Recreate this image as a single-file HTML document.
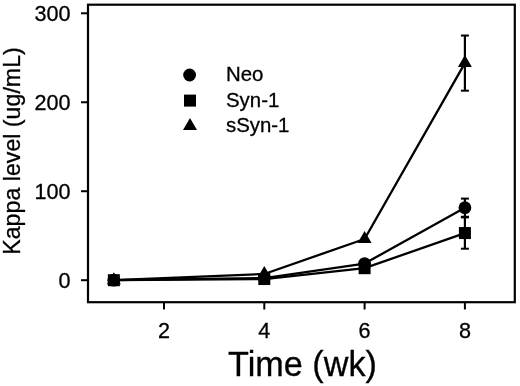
<!DOCTYPE html>
<html><head><meta charset="utf-8"><style>
html,body{margin:0;padding:0;background:#fff;}
body{width:520px;height:386px;overflow:hidden;}
svg{display:block;}
text{font-family:"Liberation Sans",Arial,sans-serif;fill:#000;stroke:#000;stroke-width:0.3px;}
.tk{font-size:21.6px;}
.lg{font-size:20.4px;}
.xt{font-size:34.2px;}
.yt{font-size:23.2px;}
</style></head><body>
<svg width="520" height="386" viewBox="0 0 520 386">
<rect x="88" y="4.7" width="426.79999999999995" height="297.5" fill="none" stroke="#000" stroke-width="2.2"/>
<line x1="81" y1="280.20" x2="88" y2="280.20" stroke="#000" stroke-width="2"/>
<text x="70.5" y="287.70" text-anchor="end" class="tk">0</text>
<line x1="81" y1="191.23" x2="88" y2="191.23" stroke="#000" stroke-width="2"/>
<text x="70.5" y="198.73" text-anchor="end" class="tk">100</text>
<line x1="81" y1="102.26" x2="88" y2="102.26" stroke="#000" stroke-width="2"/>
<text x="70.5" y="109.76" text-anchor="end" class="tk">200</text>
<line x1="81" y1="13.29" x2="88" y2="13.29" stroke="#000" stroke-width="2"/>
<text x="70.5" y="20.79" text-anchor="end" class="tk">300</text>
<line x1="164.00" y1="302.2" x2="164.00" y2="309.5" stroke="#000" stroke-width="2"/>
<text x="164.00" y="337.8" text-anchor="middle" class="tk">2</text>
<line x1="264.30" y1="302.2" x2="264.30" y2="309.5" stroke="#000" stroke-width="2"/>
<text x="264.30" y="337.8" text-anchor="middle" class="tk">4</text>
<line x1="364.60" y1="302.2" x2="364.60" y2="309.5" stroke="#000" stroke-width="2"/>
<text x="364.60" y="337.8" text-anchor="middle" class="tk">6</text>
<line x1="464.90" y1="302.2" x2="464.90" y2="309.5" stroke="#000" stroke-width="2"/>
<text x="464.90" y="337.8" text-anchor="middle" class="tk">8</text>
<polyline points="113.85,280.20 264.30,273.97 364.60,239.01 464.90,63.11" fill="none" stroke="#000" stroke-width="2.3" stroke-linejoin="round"/>
<polyline points="113.85,280.20 264.30,278.06 364.60,263.56 464.90,207.69" fill="none" stroke="#000" stroke-width="2.3" stroke-linejoin="round"/>
<polyline points="113.85,280.20 264.30,279.04 364.60,268.19 464.90,233.05" fill="none" stroke="#000" stroke-width="2.3" stroke-linejoin="round"/>
<line x1="464.90" y1="35.53" x2="464.90" y2="90.69" stroke="#000" stroke-width="2.2"/>
<line x1="460.90" y1="35.53" x2="468.90" y2="35.53" stroke="#000" stroke-width="2"/>
<line x1="460.90" y1="90.69" x2="468.90" y2="90.69" stroke="#000" stroke-width="2"/>
<line x1="464.90" y1="198.61" x2="464.90" y2="216.76" stroke="#000" stroke-width="2.2"/>
<line x1="460.90" y1="198.61" x2="468.90" y2="198.61" stroke="#000" stroke-width="2"/>
<line x1="460.90" y1="216.76" x2="468.90" y2="216.76" stroke="#000" stroke-width="2"/>
<line x1="464.90" y1="217.39" x2="464.90" y2="248.70" stroke="#000" stroke-width="2.2"/>
<line x1="460.90" y1="217.39" x2="468.90" y2="217.39" stroke="#000" stroke-width="2"/>
<line x1="460.90" y1="248.70" x2="468.90" y2="248.70" stroke="#000" stroke-width="2"/>
<polygon points="113.85,272.20 120.85,284.20 106.85,284.20"/>
<polygon points="264.30,265.97 271.30,277.97 257.30,277.97"/>
<polygon points="364.60,231.01 371.60,243.01 357.60,243.01"/>
<polygon points="464.90,55.11 471.90,67.11 457.90,67.11"/>
<circle cx="113.85" cy="280.20" r="6.4"/>
<circle cx="264.30" cy="278.06" r="6.4"/>
<circle cx="364.60" cy="263.56" r="6.4"/>
<circle cx="464.90" cy="207.69" r="6.4"/>
<rect x="107.85" y="274.20" width="12" height="12"/>
<rect x="258.30" y="273.04" width="12" height="12"/>
<rect x="358.60" y="262.19" width="12" height="12"/>
<rect x="458.90" y="227.05" width="12" height="12"/>
<circle cx="189.60" cy="75.00" r="6.4"/>
<rect x="184.00" y="94.60" width="12" height="12"/>
<polygon points="190.00,118.00 197.00,130.00 183.00,130.00"/>
<text x="226" y="81.4" class="lg">Neo</text>
<text x="226" y="106.8" class="lg">Syn-1</text>
<text x="226" y="132.4" class="lg">sSyn-1</text>
<text x="302.5" y="376.2" text-anchor="middle" class="xt">Time (wk)</text>
<text transform="translate(20,151) rotate(-90)" text-anchor="middle" class="yt">Kappa level (ug/mL)</text>
</svg>
</body></html>
